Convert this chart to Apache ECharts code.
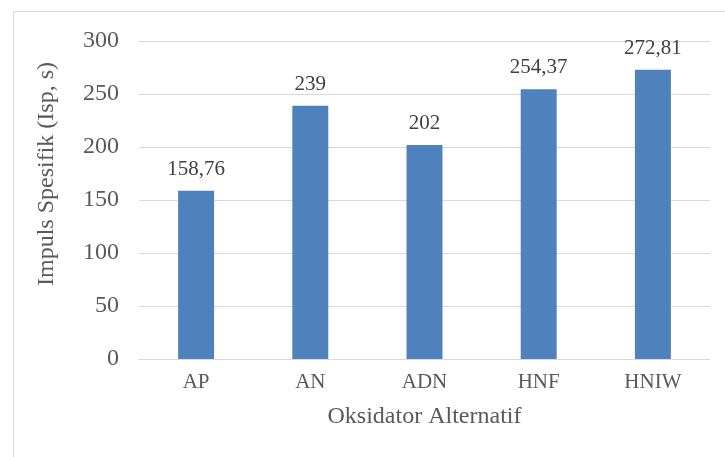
<!DOCTYPE html>
<html>
<head>
<meta charset="utf-8">
<script src="https://cdn.jsdelivr.net/npm/echarts@6/dist/echarts.min.js"></script>
<style>
html,body{margin:0;padding:0;background:#fff;}
#chart{width:725px;height:457px;}
</style>
</head>
<body>
<div id="chart"></div>
<script>
const categories = ['AP', 'AN', 'ADN', 'HNF', 'HNIW'];
const values = [158.76, 239, 202, 254.37, 272.81];
const valueLabels = ['158,76', '239', '202', '254,37', '272,81'];
const yTicks = [0, 50, 100, 150, 200, 250, 300];

const font = '"Liberation Serif", "DejaVu Serif", serif';
const textColor = '#595959';
const chart = echarts.init(document.getElementById('chart'));
chart.setOption({
  animation: false,
  backgroundColor: '#fff',
  graphic: [{
    type: 'rect',
    shape: { x: 13.5, y: 11.5, width: 730, height: 460 },
    style: { fill: 'none', stroke: '#d9d9d9', lineWidth: 1 },
    silent: true
  }],
  grid: { left: 139, right: 15, top: 41, bottom: 98, containLabel: false },
  xAxis: {
    type: 'category',
    data: categories,
    name: 'Oksidator Alternatif',
    nameLocation: 'middle',
    nameGap: 46,
    nameTextStyle: { fontFamily: font, fontSize: 24, color: textColor, verticalAlign: 'top' },
    axisLine: { show: true, lineStyle: { color: '#d9d9d9', width: 1 } },
    axisTick: { show: false },
    axisLabel: { fontFamily: font, fontSize: 21, color: textColor, margin: 13 }
  },
  yAxis: {
    type: 'value',
    min: yTicks[0],
    max: yTicks[yTicks.length - 1],
    interval: 50,
    name: 'Impuls Spesifik (Isp, s)',
    nameLocation: 'middle',
    nameGap: 80,
    nameRotate: 90,
    nameTextStyle: { fontFamily: font, fontSize: 24, color: textColor, padding: [0, 0, 0, 52] },
    axisLine: { show: false },
    axisTick: { show: false },
    splitLine: { lineStyle: { color: '#d9d9d9', width: 1 } },
    axisLabel: { fontFamily: font, fontSize: 24, color: textColor, margin: 20 }
  },
  series: [{
    type: 'bar',
    data: values,
    barWidth: '31.5%',
    itemStyle: { color: '#4F81BD' },
    label: {
      show: true,
      position: 'top',
      distance: 11,
      fontFamily: font,
      fontSize: 21,
      color: '#404040',
      formatter: p => valueLabels[p.dataIndex]
    }
  }]
});
</script>
</body>
</html>
